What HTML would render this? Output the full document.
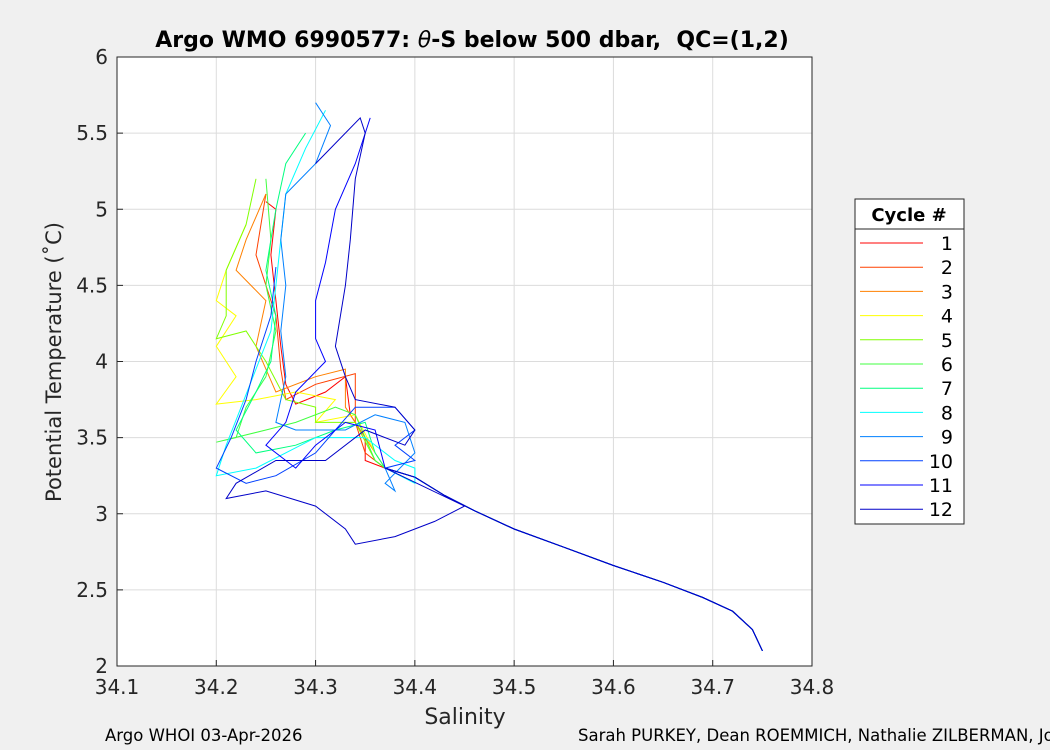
<!DOCTYPE html>
<html><head><meta charset="utf-8"><style>
body{margin:0;background:#f0f0f0;font-family:"Liberation Sans","DejaVu Sans",sans-serif;}
</style></head><body>
<svg width="1050" height="750" xmlns="http://www.w3.org/2000/svg" style="display:block">
<rect x="0" y="0" width="1050" height="750" fill="#f0f0f0"/>
<rect x="117" y="57" width="695" height="609" fill="#fff" stroke="#262626" stroke-width="1"/>
<g id="grid"></g>
<g id="series"></g>
<g id="axes"></g>
<text x="472" y="47" text-anchor="middle" font-size="22" font-weight="bold" font-family="DejaVu Sans, sans-serif" fill="#000" xml:space="preserve">Argo WMO 6990577: <tspan font-style="italic" font-weight="normal">θ</tspan>-S below 500 dbar,  QC=(1,2)</text>
<text x="465" y="724" text-anchor="middle" font-size="22" font-family="DejaVu Sans, sans-serif" fill="#262626">Salinity</text>
<text transform="translate(61,362) rotate(-90)" text-anchor="middle" font-size="21" font-family="DejaVu Sans, sans-serif" fill="#262626">Potential Temperature (˚C)</text>
<text x="105" y="741" font-size="16.5" font-family="DejaVu Sans, sans-serif" fill="#000">Argo WHOI 03-Apr-2026</text>
<text x="578" y="741" font-size="16.5" font-family="DejaVu Sans, sans-serif" fill="#000">Sarah PURKEY, Dean ROEMMICH, Nathalie ZILBERMAN, Jo</text>
<g id="legend">
<rect x="855" y="199" width="109" height="325" fill="#fff" stroke="#262626"/>
<line x1="855" y1="229" x2="964" y2="229" stroke="#262626"/>
<text x="909" y="221" text-anchor="middle" font-size="18" font-weight="bold" font-family="DejaVu Sans, sans-serif">Cycle #</text>
</g>
</svg>
<script>
const xTicks=[34.1,34.2,34.3,34.4,34.5,34.6,34.7,34.8];
const yTicks=[2,2.5,3,3.5,4,4.5,5,5.5,6];
const cycles=[1,2,3,4,5,6,7,8,9,10,11,12];
const colors=["#ff0000","#ff4000","#ff8000","#ffff00","#80ff00","#40ff40","#00ff80","#00ffff","#0080ff","#0040ff","#0000ff","#0000c8"];
const tailS=[34.37,34.4,34.43,34.46,34.5,34.55,34.6,34.65,34.69,34.72,34.74,34.75];
const tailT=[3.3,3.24,3.12,3.02,2.9,2.78,2.66,2.55,2.45,2.36,2.24,2.1];
const S1=[34.25,34.26,34.255,34.26,34.265,34.27,34.28,34.31,34.33,34.335,34.35,34.35];
const T1=[5.05,5.0,4.7,4.4,4.1,3.85,3.72,3.8,3.9,3.65,3.5,3.35];
const S2=[34.25,34.24,34.26,34.265,34.27,34.3,34.34,34.34,34.35];
const T2=[5.1,4.7,4.3,3.95,3.75,3.85,3.92,3.6,3.4];
const S3=[34.25,34.23,34.22,34.25,34.24,34.26,34.3,34.33,34.33,34.36];
const T3=[5.1,4.8,4.6,4.4,4.1,3.8,3.9,3.95,3.7,3.4];
const S4=[34.23,34.21,34.2,34.22,34.2,34.22,34.2,34.24,34.28,34.32,34.3,34.34,34.36];
const T4=[4.9,4.6,4.4,4.3,4.1,3.9,3.72,3.75,3.8,3.75,3.6,3.65,3.4];
const S5=[34.24,34.23,34.21,34.21,34.2,34.23,34.25,34.27,34.3,34.3,34.34,34.36];
const T5=[5.2,4.9,4.6,4.3,4.15,4.2,4.0,3.75,3.7,3.6,3.6,3.35];
const S6=[34.25,34.255,34.25,34.26,34.25,34.23,34.22,34.2,34.25,34.28,34.32,34.34,34.36];
const T6=[5.2,4.8,4.5,4.2,3.9,3.7,3.5,3.47,3.55,3.6,3.7,3.65,3.35];
const S7=[34.29,34.27,34.26,34.25,34.26,34.255,34.24,34.22,34.24,34.28,34.32,34.35,34.36];
const T7=[5.5,5.3,5.0,4.6,4.3,4.0,3.8,3.55,3.4,3.45,3.55,3.6,3.4];
const S8=[34.31,34.29,34.27,34.265,34.26,34.255,34.24,34.225,34.21,34.2,34.24,34.3,34.35,34.38,34.4,34.4];
const T8=[5.65,5.4,5.1,4.8,4.5,4.2,3.95,3.7,3.45,3.25,3.3,3.5,3.5,3.35,3.3,3.2];
const S9=[34.3,34.315,34.3,34.27,34.265,34.27,34.265,34.27,34.26,34.28,34.33,34.36,34.39,34.4,34.37,34.38];
const T9=[5.7,5.55,5.3,5.1,4.8,4.5,4.2,3.9,3.6,3.55,3.55,3.65,3.6,3.4,3.2,3.15];
const S10=[34.26,34.255,34.24,34.23,34.215,34.2,34.23,34.26,34.3,34.32,34.34,34.38,34.4,34.38,34.4];
const T10=[4.62,4.3,4.0,3.75,3.5,3.3,3.2,3.25,3.4,3.55,3.7,3.7,3.55,3.45,3.35];
const S11=[34.355,34.34,34.32,34.31,34.3,34.3,34.31,34.28,34.27,34.25,34.28,34.3,34.33,34.36];
const T11=[5.6,5.3,5.0,4.65,4.4,4.15,4.0,3.8,3.6,3.45,3.3,3.45,3.6,3.55];
const S12=[34.3,34.345,34.35,34.34,34.335,34.33,34.32,34.33,34.34,34.38,34.4,34.39,34.35,34.31,34.26,34.22,34.21,34.25,34.3,34.33,34.34,34.38,34.42,34.45];
const T12=[5.3,5.6,5.5,5.2,4.8,4.5,4.1,3.9,3.75,3.7,3.55,3.45,3.55,3.35,3.35,3.2,3.1,3.15,3.05,2.9,2.8,2.85,2.95,3.05];
const allS=[S1,S2,S3,S4,S5,S6,S7,S8,S9,S10,S11,S12];
const allT=[T1,T2,T3,T4,T5,T6,T7,T8,T9,T10,T11,T12];
const X0=117,X1=812,Y0=666,Y1=57;
function xs(s){return X0+(s-34.1)/(34.8-34.1)*(X1-X0);}
function ys(t){return Y0-(t-2)/(6-2)*(Y0-Y1);}
const NS="http://www.w3.org/2000/svg";
function mk(tag,attrs,parent){const e=document.createElementNS(NS,tag);for(const k in attrs)e.setAttribute(k,attrs[k]);parent.appendChild(e);return e;}
const grid=document.getElementById('grid'),axes=document.getElementById('axes'),ser=document.getElementById('series'),leg=document.getElementById('legend');
xTicks.forEach(v=>{const x=xs(v);
 const g=mk('line',{x1:x,x2:x,y1:Y1,y2:Y0,stroke:'#dcdcdc','stroke-width':1},grid);
 
 
 mk('line',{x1:x,x2:x,y1:Y0,y2:Y0-6,stroke:'#262626'},axes);
 const t=mk('text',{x:x,y:Y0+28,'text-anchor':'middle','font-size':20,'font-family':'DejaVu Sans, sans-serif',fill:'#262626'},axes);
 t.textContent=v.toFixed(1);
 
 
});
yTicks.forEach(v=>{const y=ys(v);
 const g=mk('line',{x1:X0,x2:X1,y1:y,y2:y,stroke:'#dcdcdc','stroke-width':1},grid);
 
 
 mk('line',{x1:X0,x2:X0+6,y1:y,y2:y,stroke:'#262626'},axes);
 const t=mk('text',{x:X0-9,y:y+7,'text-anchor':'end','font-size':20,'font-family':'DejaVu Sans, sans-serif',fill:'#262626'},axes);
 t.textContent=String(v);
 
 
});
mk('rect',{x:X0,y:Y1,width:X1-X0,height:Y0-Y1,fill:'none',stroke:'#262626'},axes);
cycles.forEach((c,i)=>{
 const S=allS[i].concat(tailS),T=allT[i].concat(tailT);
 const pts=S.map((s,j)=>xs(s).toFixed(1)+','+ys(T[j]).toFixed(1)).join(' ');
 const p=mk('polyline',{points:pts,fill:'none',stroke:colors[i],'stroke-width':1},ser);
 
 
 const ly=243+i*24.2;
 const l=mk('line',{x1:860,x2:923,y1:ly,y2:ly,stroke:colors[i],'stroke-width':1},leg);
 
 
 const t=mk('text',{x:953,y:ly+7,'text-anchor':'end','font-size':19,'font-family':'DejaVu Sans, sans-serif'},leg);
 t.textContent=String(c);
 
 
});
</script>
</body></html>
